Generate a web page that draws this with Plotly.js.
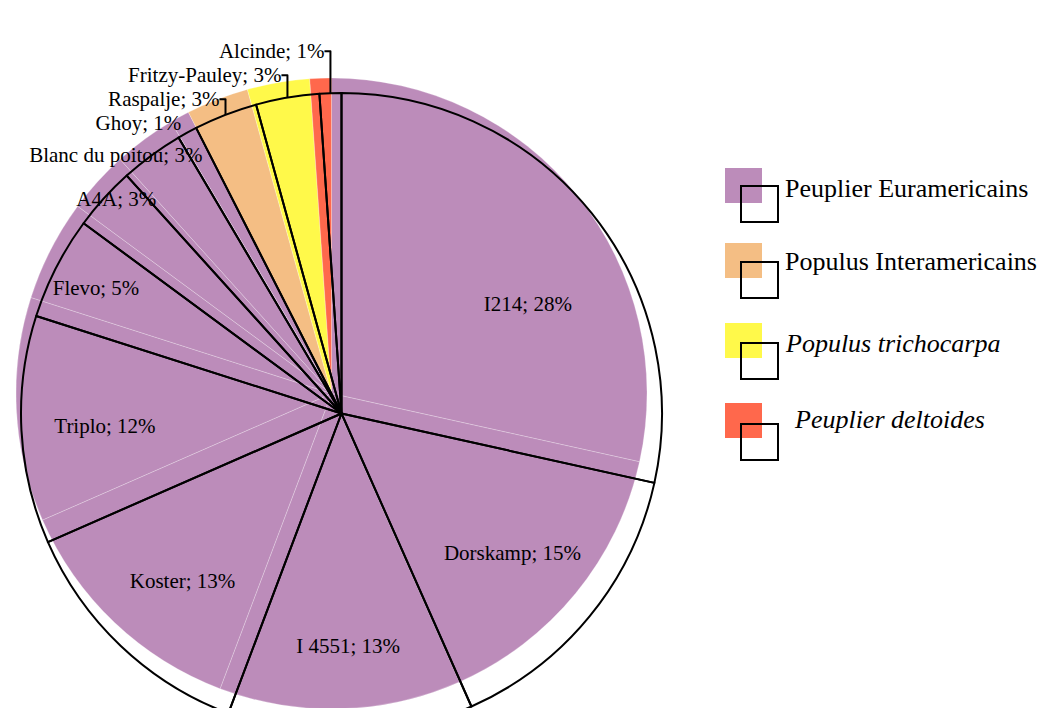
<!DOCTYPE html>
<html><head><meta charset="utf-8">
<script src="https://cdn.plot.ly/plotly-3.0.1.min.js"></script>
<style>
html,body{margin:0;padding:0;overflow:hidden;background:#fff;width:1043px;height:708px}
#chart{width:1043px;height:760px}
</style>
</head><body><div id="chart"></div>
<script>
// ---- data ----
const cultivars = ['I214','Dorskamp','I 4551','Koster','Triplo','Flevo','A4A','Blanc du poitou','Ghoy','Raspalje','Fritzy-Pauley','Alcinde'];
const shares = [28.5,14.9,12.4,12.7,11.5,5.2,3.2,3.2,1.0,3.2,3.2,1.1];
const shareLabels = ['28%','15%','13%','13%','12%','5%','3%','3%','1%','3%','3%','1%'];
const cultivarGroup = [0,0,0,0,0,0,0,0,0,1,2,3];
const groupNames = ['Peuplier Euramericains','Populus Interamericains','<i>Populus trichocarpa</i>','<i>Peuplier deltoides</i>'];

// ---- styles ----
const groupColors = ['#BC8CBA','#F4BE84','#FFF94A','#FF684C'];
const W = 1043, H = 760;
const px = v => v / W;
const py = v => 1 - v / H;
const FONT = 'Liberation Serif, Times New Roman, serif';
const labelFont = {family: FONT, size: 21, color: '#000'};

const sliceColors = cultivarGroup.map(g => groupColors[g]);
const clear = cultivars.map(() => 'rgba(0,0,0,0)');
// placement of the slice labels
const outlineInside = [1,2,3,4,5];
const looseInside = [0];
const looseOutside = [6,7];          // labels placed without leader lines
const outlinePos = cultivars.map((c, i) => outlineInside.includes(i) ? 'inside'
  : ((looseInside.includes(i) || looseOutside.includes(i)) ? 'none' : 'outside'));
const loosePos = cultivars.map((c, i) => looseInside.includes(i) ? 'inside'
  : (looseOutside.includes(i) ? 'outside' : 'none'));

const common = {
  type: 'pie', labels: cultivars, values: shares, sort: false,
  direction: 'clockwise', rotation: 0, hoverinfo: 'skip', showlegend: false
};

const fillPie = Object.assign({}, common, {
  marker: {colors: sliceColors, line: {color: 'rgba(255,255,255,0.35)', width: 0.7}},
  textinfo: 'none',
  domain: {x: [px(16), px(647)], y: [py(709), py(78)]}
});

const labelPie = Object.assign({}, common, {
  marker: {colors: clear, line: {width: 0}},
  text: shareLabels,
  texttemplate: '%{label}; %{text}',
  textposition: loosePos,
  insidetextorientation: 'horizontal',
  insidetextfont: labelFont,
  outsidetextfont: labelFont,
  domain: {x: [px(82), px(702)], y: [py(723), py(103)]}
});

const outlinePie = Object.assign({}, common, {
  marker: {colors: clear, line: {color: '#000', width: 2}},
  text: shareLabels,
  texttemplate: '%{label}; %{text}',
  textposition: outlinePos,
  insidetextorientation: 'horizontal',
  insidetextfont: labelFont,
  outsidetextfont: labelFont,
  domain: {x: [px(21), px(662)], y: [py(734), py(93)]}
});

// legend (custom, drawn with shapes + annotations)
const legTop = [168, 243, 323, 403];
const legOutTop = [186, 262, 343, 424];
const legTextY = [188, 261, 343, 419];
const legTextX = [783, 783, 783, 792];
const shapes = [], annotations = [];
groupNames.forEach((n, i) => {
  shapes.push({type: 'rect', xref: 'paper', yref: 'paper',
    x0: px(725), x1: px(762), y0: py(legTop[i] + 35), y1: py(legTop[i]),
    fillcolor: groupColors[i], line: {width: 0}});
  shapes.push({type: 'rect', xref: 'paper', yref: 'paper',
    x0: px(741), x1: px(778), y0: py(legOutTop[i] + 36), y1: py(legOutTop[i]),
    fillcolor: 'rgba(0,0,0,0)', line: {color: '#000', width: 2}});
  annotations.push({xref: 'paper', yref: 'paper', x: px(legTextX[i]), y: py(legTextY[i]),
    xanchor: 'left', yanchor: 'middle', showarrow: false, text: n,
    font: {family: FONT, size: 26, color: '#000'}});
});

const layout = {
  width: W, height: H,
  margin: {l: 0, r: 0, t: 0, b: 0},
  paper_bgcolor: '#fff', plot_bgcolor: '#fff',
  showlegend: false,
  shapes: shapes, annotations: annotations,
  font: {family: FONT, color: '#000'}
};

Plotly.newPlot('chart', [fillPie, labelPie, outlinePie], layout, {displayModeBar: false, staticPlot: true});
</script>
</body></html>
